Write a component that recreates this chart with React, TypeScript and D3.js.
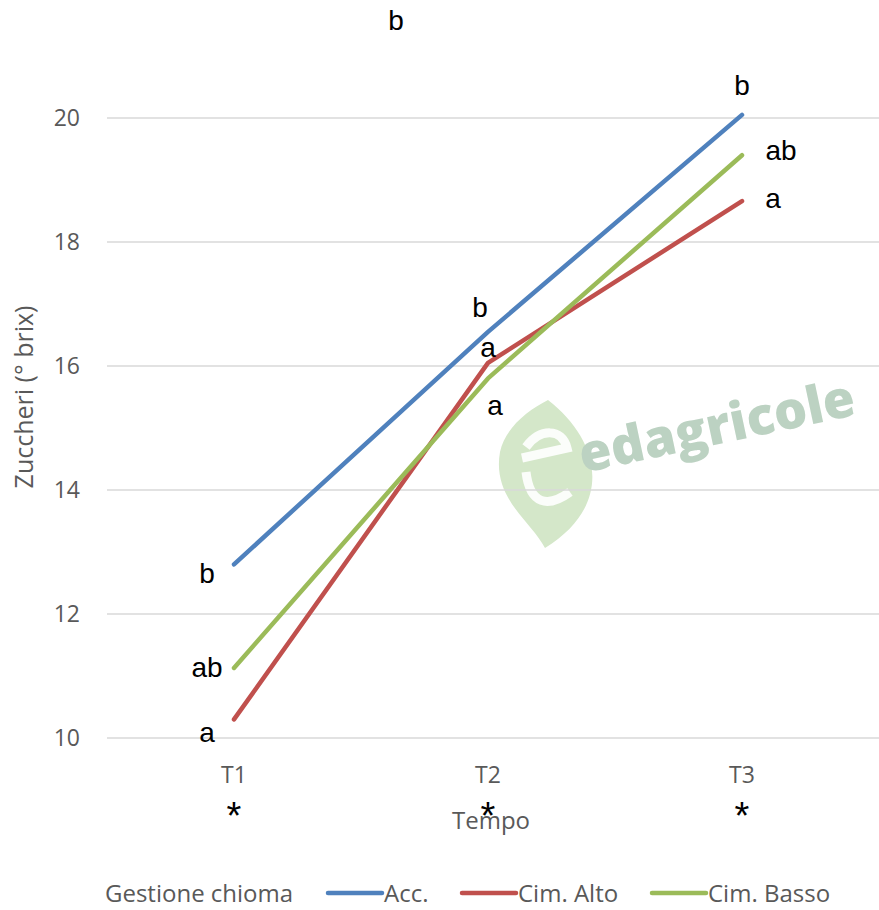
import { useEffect, useRef } from "react";
import * as d3 from "d3";

const categories = ["T1", "T2", "T3"];
const seriesNames = ["Acc.", "Cim. Alto", "Cim. Basso"];
const accValues = [12.8, 16.55, 20.05];
const altoValues = [10.3, 16.05, 18.66];
const bassoValues = [11.13, 15.8, 19.4];
const accLetters = ["b", "b", "b"];
const altoLetters = ["a", "a", "a"];
const bassoLetters = ["ab", "a", "ab"];
const yTicks = [10, 12, 14, 16, 18, 20];
const significance = ["*", "*", "*"];

const colors = ["#4f81bd", "#c0504d", "#9bbb59"];
// label offsets relative to each point (layout only)
const letterOffsets = [
  [[-27, 9], [-8, -25], [0, -30]],
  [[-27, 13], [0, -16], [31, -3]],
  [[-27, -1], [7, 27], [39, -5]],
];

const W = 879;
const H = 910;
const tickFont = "'Liberation Sans Narrow', 'Open Sans', sans-serif";

export default function App() {
  const ref = useRef<SVGSVGElement>(null);

  useEffect(() => {
    document.body.style.margin = "0";
    if (!ref.current) return;
    const svg = d3.select(ref.current);
    svg.selectAll("*").remove();

    const x = d3.scaleBand().domain(categories).range([107, 869]);
    const cx = (c: string) => (x(c) ?? 0) + x.bandwidth() / 2;
    const y = d3.scaleLinear().domain([10, 20]).range([738, 118]);

    // watermark
    const wm = svg.append("g");
    wm.append("path")
      .attr(
        "d",
        "M548,400 C600,440 615,505 545,548 C530,520 492,498 500,452 C505,428 528,410 548,400 Z"
      )
      .attr("fill", "#d4e7c9");
    wm.append("path")
      .attr("d", "M522,458 L567,448 C562,428 540,428 526,447 M526,472 C530,505 548,508 570,492")
      .attr("fill", "none")
      .attr("stroke", "#fff")
      .attr("stroke-width", 9)
      .attr("opacity", 0.9);
    wm.append("text")
      .attr("transform", "translate(583,473) rotate(-12)")
      .attr("font-family", "'Open Sans', sans-serif")
      .attr("font-weight", 800)
      .attr("font-size", 52)
      .attr("fill", "#bcd2c2")
      .text("edagricole");

    // gridlines
    svg.append("g")
      .selectAll("line")
      .data(yTicks)
      .join("line")
      .attr("x1", 107)
      .attr("x2", W)
      .attr("y1", (d) => y(d))
      .attr("y2", (d) => y(d))
      .attr("stroke", "#d9d9d9")
      .attr("stroke-width", 1.5);

    // y tick labels
    svg.append("g")
      .selectAll("text")
      .data(yTicks)
      .join("text")
      .attr("x", 80)
      .attr("y", (d) => y(d))
      .attr("dy", "0.35em")
      .attr("text-anchor", "end")
      .attr("font-family", tickFont)
      .attr("font-size", 23)
      .attr("fill", "#595959")
      .text((d) => d);

    // y title
    svg.append("text")
      .attr("transform", "translate(33,397) rotate(-90)")
      .attr("text-anchor", "middle")
      .attr("font-family", tickFont)
      .attr("font-size", 25)
      .attr("fill", "#595959")
      .text("Zuccheri (° brix)");

    // x tick labels
    svg.append("g")
      .selectAll("text")
      .data(categories)
      .join("text")
      .attr("x", (d) => cx(d))
      .attr("y", 783)
      .attr("text-anchor", "middle")
      .attr("font-family", tickFont)
      .attr("font-size", 23)
      .attr("fill", "#595959")
      .text((d) => d);

    svg.append("text")
      .attr("x", 491)
      .attr("y", 829)
      .attr("text-anchor", "middle")
      .attr("font-family", tickFont)
      .attr("font-size", 24)
      .attr("fill", "#595959")
      .text("Tempo");

    svg.append("g")
      .selectAll("text")
      .data(categories)
      .join("text")
      .attr("x", (d) => cx(d))
      .attr("y", 829)
      .attr("text-anchor", "middle")
      .attr("font-family", "'Liberation Sans', Arial, sans-serif")
      .attr("font-size", 38)
      .attr("fill", "#000")
      .text((_, i) => significance[i]);

    // lines
    const all = [accValues, altoValues, bassoValues];
    const letters = [accLetters, altoLetters, bassoLetters];
    const line = d3
      .line<number>()
      .x((_, i) => cx(categories[i]))
      .y((d) => y(d));

    all.forEach((vals, s) => {
      svg.append("path")
        .datum(vals)
        .attr("fill", "none")
        .attr("stroke", colors[s])
        .attr("stroke-width", 4.5)
        .attr("stroke-linecap", "round")
        .attr("stroke-linejoin", "round")
        .attr("d", line);
    });

    all.forEach((vals, s) => {
      svg.append("g")
        .selectAll("text")
        .data(vals)
        .join("text")
        .attr("x", (_, i) => cx(categories[i]) + letterOffsets[s][i][0])
        .attr("y", (d, i) => y(d) + letterOffsets[s][i][1])
        .attr("dy", "0.35em")
        .attr("text-anchor", "middle")
        .attr("font-family", "'Liberation Sans', Arial, sans-serif")
        .attr("font-size", 28)
        .attr("fill", "#000")
        .text((_, i) => letters[s][i]);
    });

    // stray top annotation
    svg.append("text")
      .attr("x", 396)
      .attr("y", 20)
      .attr("dy", "0.35em")
      .attr("text-anchor", "middle")
      .attr("font-family", "'Liberation Sans', Arial, sans-serif")
      .attr("font-size", 28)
      .attr("fill", "#000")
      .text("b");

    // legend
    const lg = svg.append("g").attr("font-family", tickFont).attr("font-size", 24).attr("fill", "#595959");
    lg.append("text").attr("x", 105).attr("y", 902).text("Gestione chioma");
    const legendX = [328, 462, 652];
    seriesNames.forEach((name, i) => {
      lg.append("line")
        .attr("x1", legendX[i])
        .attr("x2", legendX[i] + 54)
        .attr("y1", 893)
        .attr("y2", 893)
        .attr("stroke", colors[i])
        .attr("stroke-width", 4.5)
        .attr("stroke-linecap", "round");
      lg.append("text")
        .attr("x", legendX[i] + 56)
        .attr("y", 902)
        .text(name);
    });
  }, []);

  return <svg ref={ref} width={W} height={H} style={{ display: "block" }} />;
}
